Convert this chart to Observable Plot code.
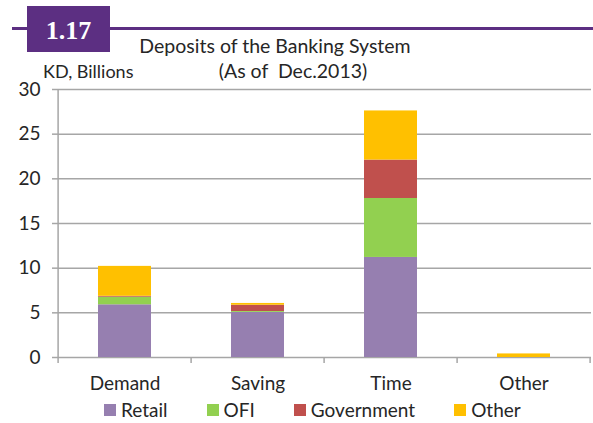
<!DOCTYPE html>
<html>
<head>
<meta charset="utf-8">
<script src="https://cdn.jsdelivr.net/npm/d3@7"></script>
<script src="https://cdn.jsdelivr.net/npm/@observablehq/plot@0.6"></script>
<style>
  html, body { margin: 0; padding: 0; background: #fff; }
  #wrap { position: relative; width: 593px; height: 423px; font-family: Lato, "Open Sans", sans-serif; color: #262626; overflow: hidden; }
  #wrap svg { position: absolute; left: 0; top: 0; }
  .hdrline { position: absolute; left: 12px; right: 0; top: 27px; height: 3px; background: #5C2F82; }
  .hdrbox { position: absolute; left: 27px; top: 6px; width: 83px; height: 46px; background: #5C2F82; color: #fff;
            font-family: "Liberation Serif", "DejaVu Serif", serif; font-weight: bold; font-size: 26px; text-align: center; line-height: 50px; }
  .t1 { position: absolute; left: 0; width: 550px; top: 34px; text-align: center; font-size: 19.5px; white-space: pre; }
  .t2 { position: absolute; left: 0; width: 586px; top: 59px; text-align: center; font-size: 19.5px; white-space: pre; }
  .unit { position: absolute; left: 43px; top: 60px; font-size: 18px; }
  .legend { position: absolute; left: 104px; top: 399px; display: flex; gap: 39px; font-size: 19px; line-height: 22px; }
  .legend span.item { display: flex; align-items: center; gap: 5px; }
  .legend i { display: inline-block; width: 12px; height: 12px; }
</style>
</head>
<body>
<div id="wrap"></div>
<script>
const categories = ["Demand", "Saving", "Time", "Other"];
const seriesNames = ["Retail", "OFI", "Government", "Other"];
const seriesColors = ["#967FB0", "#92D050", "#C0504D", "#FFC000"];
const retail = [5.9, 5.05, 11.2, 0];
const ofi = [0.85, 0.1, 6.6, 0];
const government = [0.1, 0.7, 4.3, 0];
const otherDep = [3.35, 0.2, 5.5, 0.4];
const yTicks = [0, 5, 10, 15, 20, 25, 30];
const titleLine1 = "Deposits of the Banking System";
const titleLine2 = "(As of  Dec.2013)";
const unitLabel = "KD, Billions";
const chartNumber = "1.17";

const seriesValues = [retail, ofi, government, otherDep];
const rows = [];
seriesNames.forEach((s, si) => categories.forEach((c, ci) => rows.push({category: c, series: s, value: seriesValues[si][ci]})));

const paddingInner = 0.6;
const gridColor = "#A6A6A6";

function axisFrame(index, scales, values, dimensions) {
  const x = scales.x, y = scales.y;
  const step = x(categories[1]) - x(categories[0]);
  const pad = step * paddingInner / 2;
  const bounds = categories.map(c => x(c) - pad);
  bounds.push(x(categories[categories.length - 1]) + step - pad);
  const g = d3.create("svg:g").attr("stroke", gridColor).attr("stroke-width", 1.5);
  const y0 = y(0), yTop = y(yTicks[yTicks.length - 1]);
  g.append("line").attr("x1", bounds[0]).attr("x2", bounds[0]).attr("y1", yTop).attr("y2", y0 + 6);
  bounds.slice(1).forEach(b => g.append("line").attr("x1", b).attr("x2", b).attr("y1", y0).attr("y2", y0 + 6));
  return g.node();
}

const chart = Plot.plot({
  width: 593,
  height: 423,
  marginLeft: 58,
  marginRight: 2,
  marginTop: 89,
  marginBottom: 66,
  style: {fontFamily: "Lato, 'Open Sans', sans-serif", color: "#262626", background: "transparent"},
  x: {domain: categories, paddingInner: paddingInner, paddingOuter: paddingInner / 2, axis: null},
  y: {domain: [0, 30], axis: null},
  color: {domain: seriesNames, range: seriesColors},
  marks: [
    Plot.ruleY(yTicks, {stroke: gridColor, strokeWidth: 1.5}),
    Plot.axisY({ticks: yTicks, tickSize: 6, tickPadding: 12, stroke: gridColor, strokeWidth: 1.5, fill: "#262626", fontSize: 19, label: null}),
    Plot.barY(rows, {x: "category", y: "value", fill: "series", order: seriesNames}),
    Plot.axisX({tickSize: 0, tickPadding: 19, fill: "#262626", fontSize: 19, label: null}),
    axisFrame
  ]
});

const wrap = document.getElementById("wrap");
wrap.appendChild(chart);

const add = (cls, text) => { const d = document.createElement("div"); d.className = cls; d.textContent = text; wrap.appendChild(d); return d; };
add("hdrline", "");
add("hdrbox", chartNumber);
add("t1", titleLine1);
add("t2", titleLine2);
add("unit", unitLabel);
const leg = add("legend", "");
seriesNames.forEach((s, i) => {
  const it = document.createElement("span"); it.className = "item";
  const sw = document.createElement("i"); sw.style.background = seriesColors[i];
  const tx = document.createElement("span"); tx.textContent = s;
  it.appendChild(sw); it.appendChild(tx); leg.appendChild(it);
});
</script>
</body>
</html>
